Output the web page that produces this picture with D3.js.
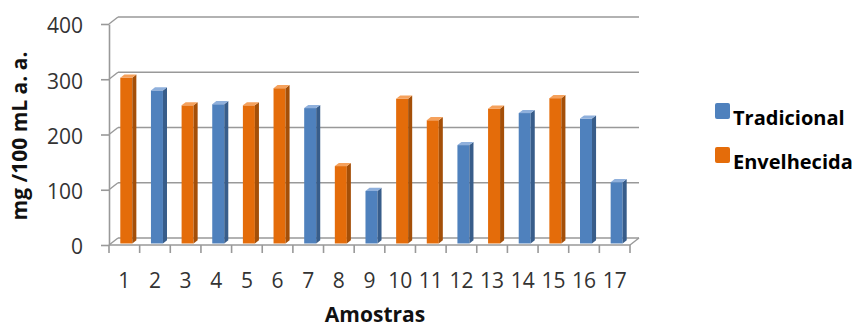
<!DOCTYPE html>
<html>
<head>
<meta charset="utf-8">
<script src="https://cdn.jsdelivr.net/npm/d3@7"></script>
<style>
  html, body { margin: 0; padding: 0; background: #fff; }
  svg { display: block; font-family: "Open Sans", "Liberation Sans", sans-serif; }
</style>
</head>
<body>
<svg id="chart" width="854" height="329"></svg>
<script>
// Sample identifiers along the x axis
const categories = ["1","2","3","4","5","6","7","8","9","10","11","12","13","14","15","16","17"];
// mg /100 mL a. a. per sample (null where the sample belongs to the other series)
const tradicional = [null, 277, null, 252, null, null, 245, null, 95, null, null, 178, null, 236, null, 226, 111];
const envelhecida = [300, null, 250, null, 250, 281, null, 140, null, 262, 223, null, 244, null, 263, null, null];
const yTicks = [0, 100, 200, 300, 400];
const seriesNames = ["Tradicional", "Envelhecida"];

const series = [
  { name: seriesNames[0], values: tradicional, front: "#4f81bd", side: "#385d8a", cap: "#8fb0dc" },
  { name: seriesNames[1], values: envelhecida, front: "#e46c0a", side: "#a44f08", cap: "#f5a15c" }
];

const svg = d3.select("#chart");

// Plot geometry: front plane of the 3-D box, plus the depth offset to the back wall
const plotLeft = 109, plotRight = 630, plotBottom = 245, plotTop = 24;
const DX = 9, DY = -7;
const barFrac = 0.22;   // depth position of the bar front face
const barDepth = 0.45;  // bar thickness in depth units
const barW = 12;

const x = d3.scaleBand().domain(categories).range([plotLeft, plotRight]).padding(0);
const y = d3.scaleLinear().domain([0, 400]).range([plotBottom, plotTop]);

const gridColor = "#999";

// Back-wall gridlines with their diagonal connectors to the front axis
const grid = svg.append("g");
yTicks.forEach(v => {
  grid.append("line")
    .attr("x1", plotLeft + DX).attr("x2", plotRight + DX)
    .attr("y1", y(v) + DY).attr("y2", y(v) + DY)
    .attr("stroke", gridColor).attr("stroke-width", 1.6);
  grid.append("line")
    .attr("x1", plotLeft).attr("x2", plotLeft + DX)
    .attr("y1", y(v)).attr("y2", y(v) + DY)
    .attr("stroke", gridColor).attr("stroke-width", 1.4);
});

// Floor: front edge and right-hand depth edge
grid.append("line")
  .attr("x1", plotLeft).attr("x2", plotRight)
  .attr("y1", y(0)).attr("y2", y(0))
  .attr("stroke", gridColor).attr("stroke-width", 1.6);
grid.append("line")
  .attr("x1", plotRight).attr("x2", plotRight + DX)
  .attr("y1", y(0)).attr("y2", y(0) + DY)
  .attr("stroke", gridColor).attr("stroke-width", 1.4);

// Category boundary ticks under the floor
const bounds = categories.map(c => x(c)).concat([x.range()[1]]);
grid.selectAll("line.xtick").data(bounds).join("line")
  .attr("class", "xtick")
  .attr("x1", d => d).attr("x2", d => d)
  .attr("y1", y(0)).attr("y2", y(0) + 8)
  .attr("stroke", gridColor).attr("stroke-width", 1.6);

// 3-D bars
const bars = svg.append("g");
series.forEach(s => {
  categories.forEach((c, i) => {
    const v = s.values[i];
    if (v == null) return;
    const xl = x(c) + (x.bandwidth() - barW) / 2 + barFrac * DX;
    const yt = y(v) + barFrac * DY;
    const yb = y(0) + barFrac * DY;
    const ddx = barDepth * DX, ddy = barDepth * DY;
    const g = bars.append("g");
    g.append("rect")
      .attr("x", xl).attr("y", yt)
      .attr("width", barW).attr("height", yb - yt)
      .attr("fill", s.front);
    g.append("polygon")
      .attr("points", [[xl + barW, yt], [xl + barW + ddx, yt + ddy], [xl + barW + ddx, yb + ddy], [xl + barW, yb]].join(" "))
      .attr("fill", s.side);
    g.append("polygon")
      .attr("points", [[xl, yt], [xl + barW, yt], [xl + barW + ddx, yt + ddy], [xl + ddx, yt + ddy]].join(" "))
      .attr("fill", s.cap);
  });
});

// Value axis
const yAxis = svg.append("g")
  .attr("transform", `translate(${plotLeft},0)`)
  .call(d3.axisLeft(y).tickValues(yTicks).tickSize(8).tickSizeOuter(0).tickPadding(18));
yAxis.select(".domain").attr("stroke", gridColor).attr("stroke-width", 1.6);
yAxis.selectAll(".tick line").attr("stroke", gridColor).attr("stroke-width", 1.6);
yAxis.selectAll(".tick text")
  .attr("fill", "#333").attr("dy", "0.42em")
  .style("font-size", "21px").style("font-family", "'Open Sans', sans-serif");

// Category axis labels
const xAxis = svg.append("g")
  .attr("transform", `translate(0,${y(0)})`)
  .call(d3.axisBottom(x).tickSize(0).tickPadding(28));
xAxis.select(".domain").remove();
xAxis.selectAll(".tick text")
  .attr("fill", "#333")
  .style("font-size", "21px").style("font-family", "'Open Sans', sans-serif");

// Axis titles
svg.append("text")
  .attr("x", 375).attr("y", 322)
  .attr("text-anchor", "middle")
  .style("font-size", "21px").style("font-weight", "bold")
  .attr("fill", "#111")
  .text("Amostras");

svg.append("text")
  .attr("transform", "translate(27,136) rotate(-90)")
  .attr("text-anchor", "middle")
  .style("font-size", "21px").style("font-weight", "bold")
  .attr("fill", "#111")
  .text("mg /100 mL a. a.");

// Legend
const legend = svg.append("g");
series.forEach((s, i) => {
  const gy = 103 + i * 44;
  legend.append("rect")
    .attr("x", 715).attr("y", gy)
    .attr("width", 15).attr("height", 16).attr("rx", 2)
    .attr("fill", s.front);
  legend.append("text")
    .attr("x", 733).attr("y", gy + 22)
    .style("font-size", "20px").style("font-weight", "bold")
    .attr("fill", "#000")
    .text(s.name);
});
</script>
</body>
</html>
